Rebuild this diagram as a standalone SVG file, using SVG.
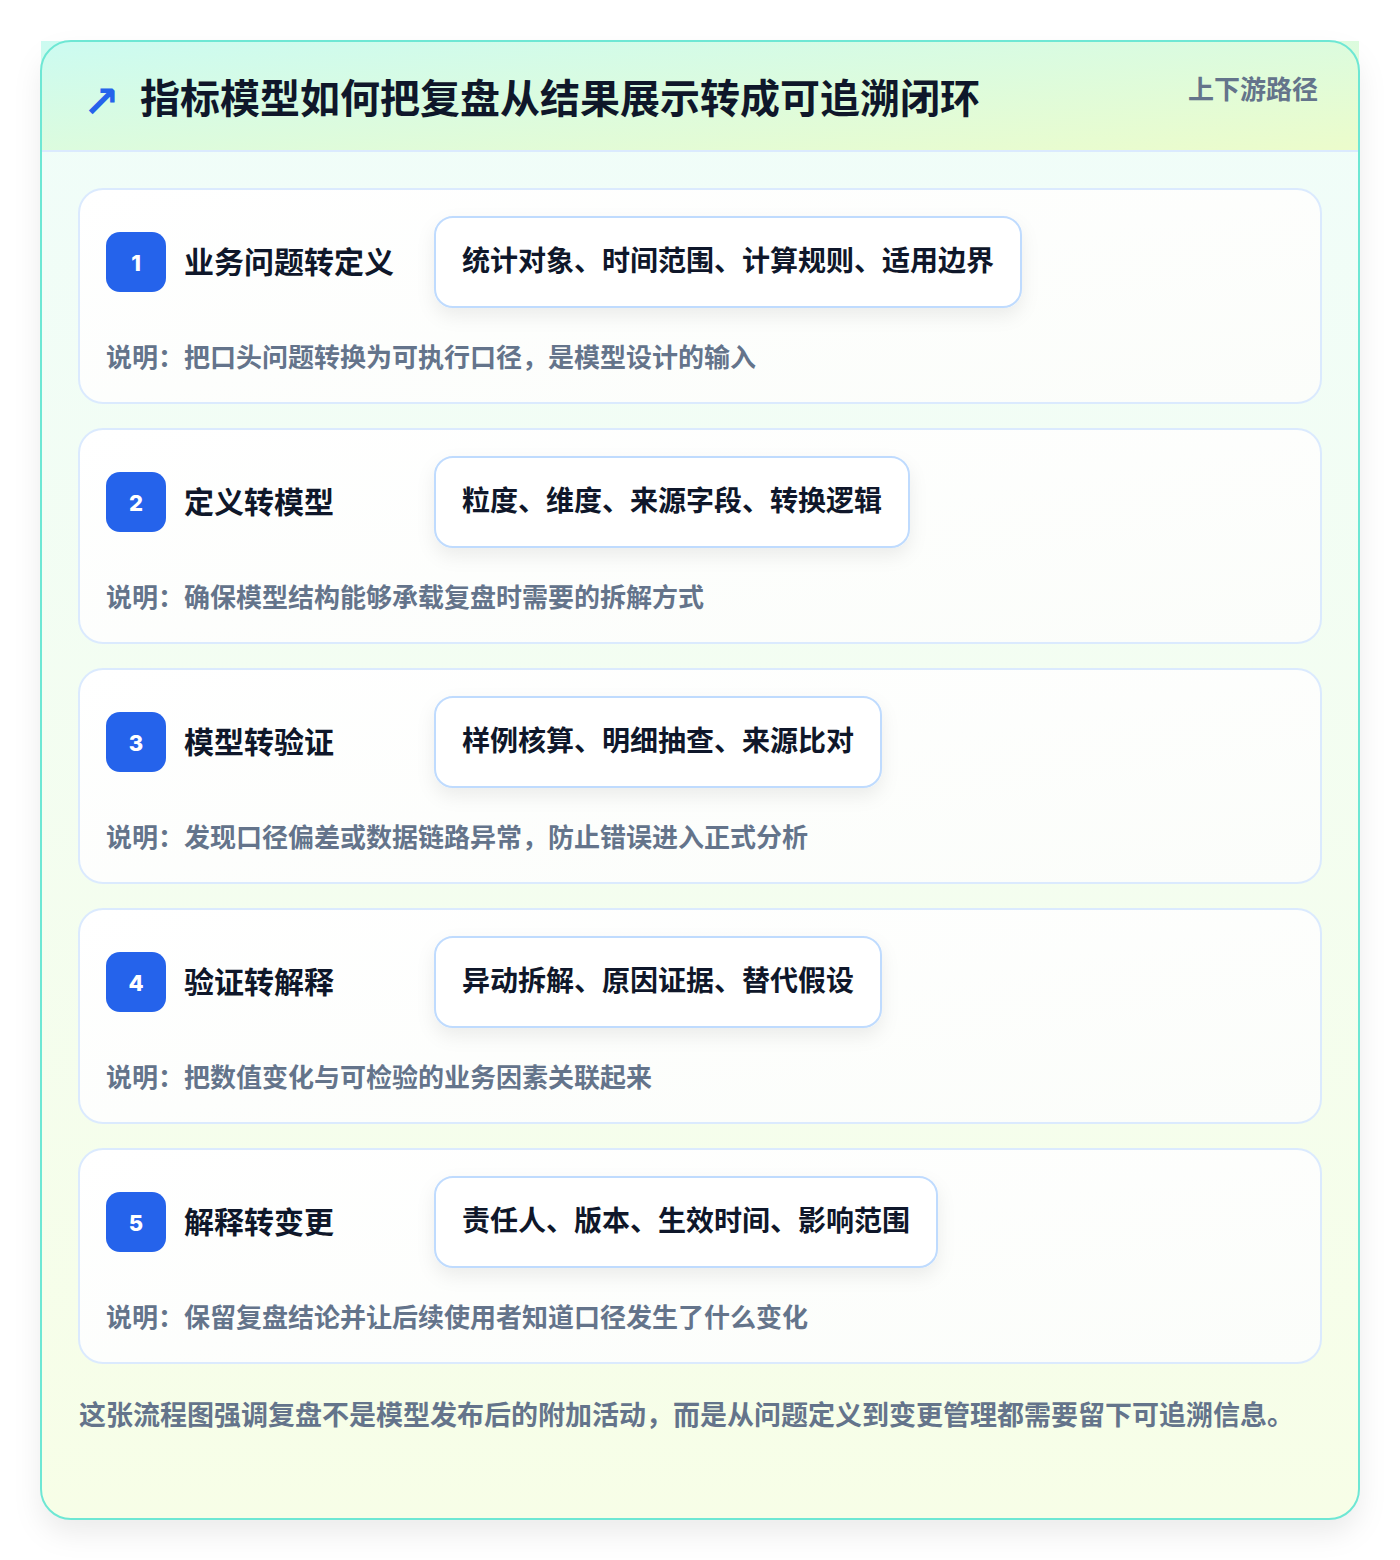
<svg xmlns="http://www.w3.org/2000/svg" width="1400" height="1560" viewBox="0 0 1400 1560">
<defs>
<linearGradient id="hdr" x1="0" y1="0" x2="1" y2="1">
<stop offset="0" stop-color="#ccfbf1"/>
<stop offset="1" stop-color="#ecfccb"/>
</linearGradient>
<linearGradient id="body" x1="0" y1="0" x2="0" y2="1">
<stop offset="0" stop-color="#f0fdfa"/>
<stop offset="1" stop-color="#f7fee7"/>
</linearGradient>
<linearGradient id="cardfill" x1="0" y1="0" x2="1" y2="1">
<stop offset="0" stop-color="#ffffff"/>
<stop offset="1" stop-color="#fbfdfa"/>
</linearGradient>
<filter id="outerShadow" x="-10%" y="-10%" width="120%" height="120%">
<feDropShadow dx="0" dy="14" stdDeviation="14" flood-color="#0f172a" flood-opacity="0.08"/>
</filter>
<filter id="pillShadow" x="-10%" y="-30%" width="120%" height="180%">
<feDropShadow dx="0" dy="8" stdDeviation="9" flood-color="#0f172a" flood-opacity="0.07"/>
</filter>
</defs>
<style>
text{font-family:"Noto Sans CJK SC","Noto Sans",sans-serif;font-weight:700}
.title{font-size:40px;fill:#0f172a}
.tag{font-size:26px;fill:#64748b}
.card{fill:url(#cardfill);stroke:#dbeafe;stroke-width:2}
.badge{fill:#2563eb}
.num{font-size:22px;fill:#ffffff;font-family:"Inter","Noto Sans",sans-serif;font-weight:800}
.stitle{font-size:30px;fill:#0f172a}
.pill{fill:#ffffff;stroke:#bfdbfe;stroke-width:2}
.ptext{font-size:28px;fill:#0f172a}
.desc{font-size:26px;fill:#64748b}
.foot{font-size:27px;fill:#64748b}
</style>
<rect width="1400" height="1560" fill="#ffffff"/>
<g id="frame">
<rect x="41" y="41" width="1318" height="1478" rx="30" fill="url(#body)" filter="url(#outerShadow)"/>
<rect x="41" y="41" width="1318" height="110" fill="url(#hdr)"/>
<line x1="42" y1="151" x2="1358" y2="151" stroke="#dbeafe" stroke-width="2"/>
<rect x="41" y="41" width="1318" height="1478" rx="30" fill="none" stroke="#6ee7d4" stroke-width="2"/>
</g>
<g id="header">
<text x="83" y="117" font-size="44" fill="#2563eb" style="font-family:'DejaVu Sans',sans-serif;font-weight:700">↗</text>
<text class="title" x="140" y="113">指标模型如何把复盘从结果展示转成可追溯闭环</text>
<text class="tag" x="1318" y="99" text-anchor="end">上下游路径</text>
</g>
<g id="step1">
<rect class="card" x="79" y="189" width="1242" height="214" rx="24"/>
<rect class="badge" x="106" y="232" width="60" height="60" rx="14"/>
<text class="num" x="136" y="271" text-anchor="middle">1</text>
<text class="stitle" x="184" y="273">业务问题转定义</text>
<rect class="pill" x="435" y="217" width="586" height="90" rx="18" filter="url(#pillShadow)"/>
<text class="ptext" x="462" y="271">统计对象、时间范围、计算规则、适用边界</text>
<text class="desc" x="106" y="367">说明：把口头问题转换为可执行口径，是模型设计的输入</text>
</g>
<g id="step2">
<rect class="card" x="79" y="429" width="1242" height="214" rx="24"/>
<rect class="badge" x="106" y="472" width="60" height="60" rx="14"/>
<text class="num" x="136" y="511" text-anchor="middle">2</text>
<text class="stitle" x="184" y="513">定义转模型</text>
<rect class="pill" x="435" y="457" width="474" height="90" rx="18" filter="url(#pillShadow)"/>
<text class="ptext" x="462" y="511">粒度、维度、来源字段、转换逻辑</text>
<text class="desc" x="106" y="607">说明：确保模型结构能够承载复盘时需要的拆解方式</text>
</g>
<g id="step3">
<rect class="card" x="79" y="669" width="1242" height="214" rx="24"/>
<rect class="badge" x="106" y="712" width="60" height="60" rx="14"/>
<text class="num" x="136" y="751" text-anchor="middle">3</text>
<text class="stitle" x="184" y="753">模型转验证</text>
<rect class="pill" x="435" y="697" width="446" height="90" rx="18" filter="url(#pillShadow)"/>
<text class="ptext" x="462" y="751">样例核算、明细抽查、来源比对</text>
<text class="desc" x="106" y="847">说明：发现口径偏差或数据链路异常，防止错误进入正式分析</text>
</g>
<g id="step4">
<rect class="card" x="79" y="909" width="1242" height="214" rx="24"/>
<rect class="badge" x="106" y="952" width="60" height="60" rx="14"/>
<text class="num" x="136" y="991" text-anchor="middle">4</text>
<text class="stitle" x="184" y="993">验证转解释</text>
<rect class="pill" x="435" y="937" width="446" height="90" rx="18" filter="url(#pillShadow)"/>
<text class="ptext" x="462" y="991">异动拆解、原因证据、替代假设</text>
<text class="desc" x="106" y="1087">说明：把数值变化与可检验的业务因素关联起来</text>
</g>
<g id="step5">
<rect class="card" x="79" y="1149" width="1242" height="214" rx="24"/>
<rect class="badge" x="106" y="1192" width="60" height="60" rx="14"/>
<text class="num" x="136" y="1231" text-anchor="middle">5</text>
<text class="stitle" x="184" y="1233">解释转变更</text>
<rect class="pill" x="435" y="1177" width="502" height="90" rx="18" filter="url(#pillShadow)"/>
<text class="ptext" x="462" y="1231">责任人、版本、生效时间、影响范围</text>
<text class="desc" x="106" y="1327">说明：保留复盘结论并让后续使用者知道口径发生了什么变化</text>
</g>
<g id="connectors"></g>
<g id="footer">
<text class="foot" x="79" y="1425">这张流程图强调复盘不是模型发布后的附加活动，而是从问题定义到变更管理都需要留下可追溯信息。</text>
</g>
</svg>
